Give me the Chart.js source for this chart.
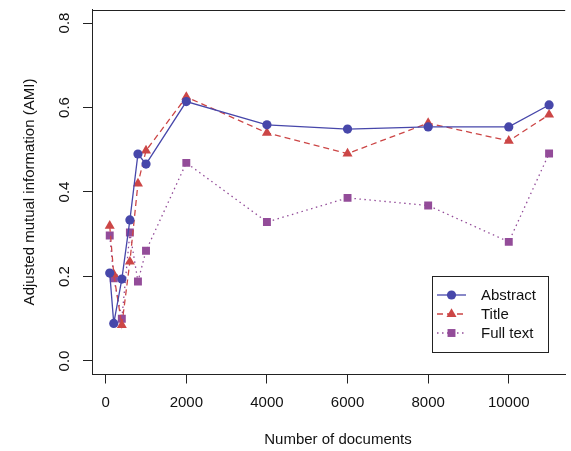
<!DOCTYPE html>
<html>
<head>
<meta charset="utf-8">
<script src="https://cdn.jsdelivr.net/npm/chart.js@4.4.0/dist/chart.umd.min.js"></script>
<style>
  html, body { margin: 0; padding: 0; background: #fff; }
  #wrap { width: 571px; height: 451px; }
</style>
</head>
<body>
<div id="wrap"><canvas id="amiChart" width="571" height="451"></canvas></div>
<script>
const docs = [100, 200, 400, 600, 800, 1000, 2000, 4000, 6000, 8000, 10000, 11000];
const abstractAmi = [0.208, 0.089, 0.194, 0.334, 0.490, 0.466, 0.614, 0.559, 0.549, 0.554, 0.554, 0.606];
const titleAmi = [0.320, 0.205, 0.085, 0.235, 0.420, 0.498, 0.625, 0.540, 0.491, 0.563, 0.521, 0.583];
const fullTextAmi = [0.297, 0.196, 0.100, 0.304, 0.188, 0.261, 0.469, 0.329, 0.386, 0.368, 0.282, 0.491];
const seriesNames = ['Abstract', 'Title', 'Full text'];
const xTicks = [0, 2000, 4000, 6000, 8000, 10000];
const yTicks = [0.0, 0.2, 0.4, 0.6, 0.8];

const FONT = '"Liberation Sans", Arial, Helvetica, sans-serif';
const ctx = document.getElementById('amiChart').getContext('2d');

function toPoints(values) {
    return docs.map((d, i) => ({ x: d, y: values[i] }));
}

const blue = '#4747AA';
const red = '#CC4646';
const purple = '#934C99';
const ink = '#222';

// axis labels, titles, top box edge and the legend are drawn by hand, R style
const axisText = {
    id: 'axisText',
    afterDraw(chart) {
        const c = chart.ctx;
        const xs = chart.scales.x;
        const ys = chart.scales.y;
        const area = chart.chartArea;
        c.save();

        // top edge of the plot box (right edge falls off the canvas)
        c.strokeStyle = ink;
        c.lineWidth = 1;
        c.beginPath();
        c.moveTo(area.left, Math.round(area.top) + 0.5);
        c.lineTo(area.right, Math.round(area.top) + 0.5);
        c.stroke();

        c.fillStyle = '#111';
        c.font = '15px ' + FONT;
        c.textAlign = 'center';
        c.textBaseline = 'middle';
        xTicks.forEach(v => {
            c.fillText(String(v), xs.getPixelForValue(v), 403);
        });
        yTicks.forEach(v => {
            c.save();
            c.translate(65, ys.getPixelForValue(v));
            c.rotate(-Math.PI / 2);
            c.fillText(v.toFixed(1), 0, 0);
            c.restore();
        });
        c.fillText('Number of documents', 338, 440);
        c.save();
        c.translate(30, (area.top + area.bottom) / 2);
        c.rotate(-Math.PI / 2);
        c.fillText('Adjusted mutual information (AMI)', 0, 0);
        c.restore();

        // legend box
        c.strokeStyle = ink;
        c.lineWidth = 1;
        c.strokeRect(432.5, 276.5, 116, 76);
        chart.data.datasets.forEach((ds, i) => {
            const y = 295 + i * 19;
            c.save();
            c.strokeStyle = ds.borderColor;
            c.lineWidth = ds.borderWidth;
            c.setLineDash(ds.borderDash || []);
            c.beginPath();
            c.moveTo(437, y);
            c.lineTo(466, y);
            c.stroke();
            c.restore();
            c.save();
            c.fillStyle = ds.pointBackgroundColor;
            c.strokeStyle = ds.pointBackgroundColor;
            Chart.helpers.drawPoint(c, {
                pointStyle: ds.pointStyle,
                radius: ds.pointRadius,
                borderWidth: 0,
                rotation: 0
            }, 451.5, y);
            c.restore();
            c.fillStyle = '#111';
            c.textAlign = 'left';
            c.fillText(ds.label, 481, y + 1);
        });
        c.restore();
    }
};

new Chart(ctx, {
    type: 'line',
    data: {
        datasets: [
            {
                label: seriesNames[0],
                data: toPoints(abstractAmi),
                borderColor: blue,
                borderWidth: 1.3,
                pointStyle: 'circle',
                pointRadius: 4.6,
                pointBackgroundColor: blue,
                pointBorderWidth: 0
            },
            {
                label: seriesNames[1],
                data: toPoints(titleAmi),
                borderColor: red,
                borderWidth: 1.3,
                borderDash: [6, 4],
                pointStyle: 'triangle',
                pointRadius: 5.8,
                pointBackgroundColor: red,
                pointBorderWidth: 0
            },
            {
                label: seriesNames[2],
                data: toPoints(fullTextAmi),
                borderColor: purple,
                borderWidth: 1.3,
                borderDash: [1.5, 3.5],
                pointStyle: 'rect',
                pointRadius: 5.6,
                pointBackgroundColor: purple,
                pointBorderWidth: 0
            }
        ]
    },
    options: {
        responsive: false,
        animation: false,
        layout: { padding: { top: 9.5, right: 0, left: 0, bottom: 0 } },
        plugins: {
            legend: { display: false },
            tooltip: { enabled: false }
        },
        scales: {
            x: {
                type: 'linear',
                min: -340,
                max: 11400,
                afterFit: s => { s.height = 76.5; },
                afterBuildTicks: s => { s.ticks = xTicks.map(v => ({ value: v })); },
                ticks: { display: false },
                grid: { drawOnChartArea: false, drawTicks: true, tickLength: 9, color: ink, lineWidth: 1 },
                border: { display: true, color: ink, width: 1 }
            },
            y: {
                min: -0.032,
                max: 0.832,
                afterFit: s => { s.width = 92; },
                afterBuildTicks: s => { s.ticks = yTicks.map(v => ({ value: v })); },
                ticks: { display: false },
                grid: { drawOnChartArea: false, drawTicks: true, tickLength: 9, color: ink, lineWidth: 1 },
                border: { display: true, color: ink, width: 1 }
            }
        }
    },
    plugins: [axisText]
});
</script>
</body>
</html>
